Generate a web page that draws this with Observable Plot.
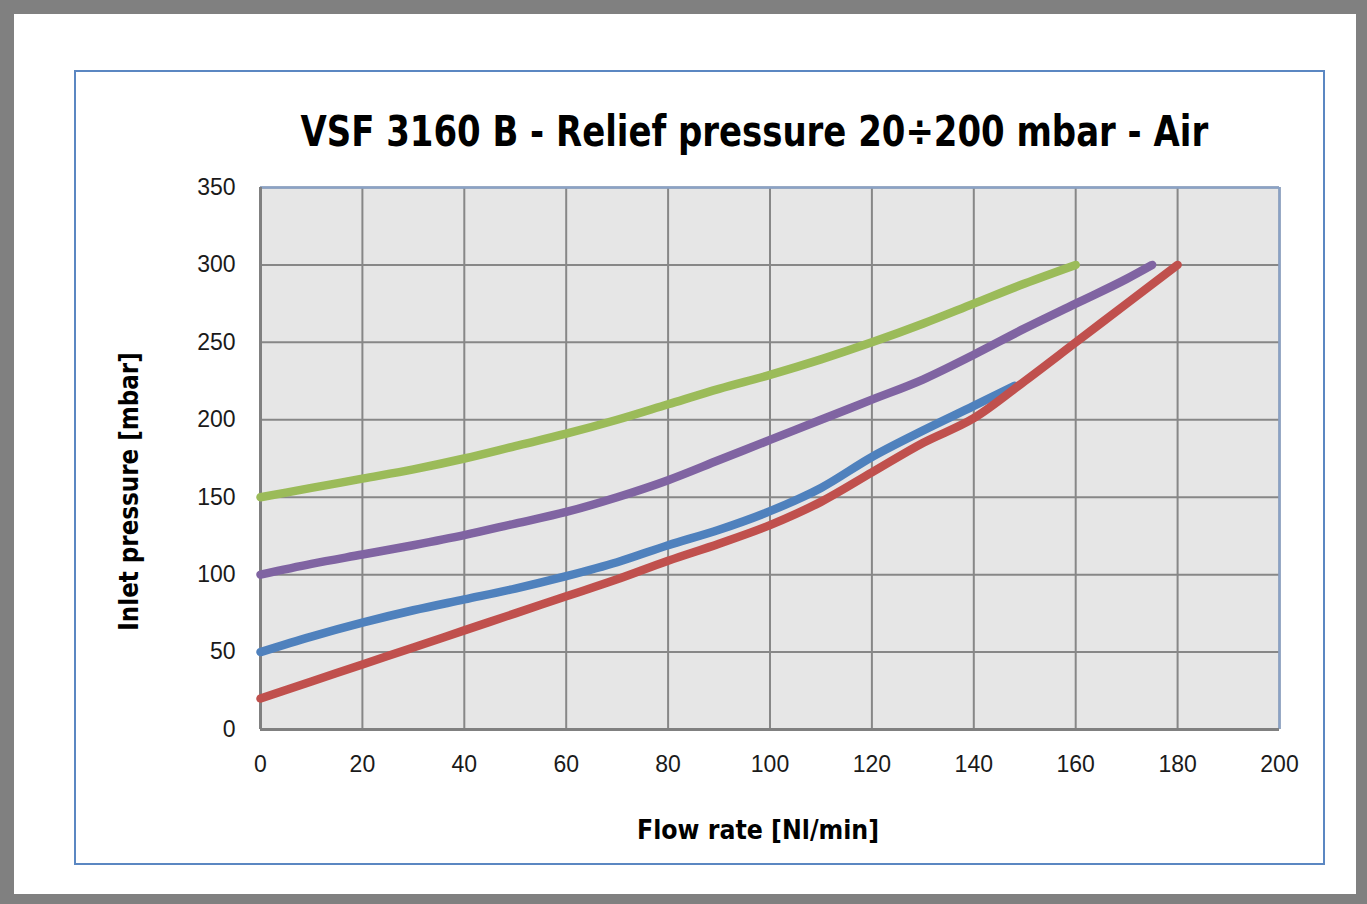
<!DOCTYPE html>
<html>
<head>
<meta charset="utf-8">
<script src="https://cdn.jsdelivr.net/npm/d3@7"></script>
<script src="https://cdn.jsdelivr.net/npm/@observablehq/plot@0.6"></script>
<style>
  html, body { margin: 0; padding: 0; background: #fff; }
  body { width: 1367px; height: 904px; position: relative; overflow: hidden; }
  #outer { position: absolute; left: 0; top: 0; width: 1367px; height: 904px; box-sizing: border-box;
           border-style: solid; border-color: #808080; border-width: 14px 11px 10px 14px; background: #fff; }
  #inner { position: absolute; left: 74px; top: 70px; width: 1251px; height: 795px; box-sizing: border-box;
           border: 2px solid #5b87c2; }
  .lbl { position: absolute; font-family: "DejaVu Sans Condensed", "DejaVu Sans", sans-serif; font-stretch: condensed;
         font-weight: bold; color: #000; white-space: nowrap; transform-origin: center center; }
  #chart { position: absolute; left: 0; top: 0; }
</style>
</head>
<body>
<div id="outer"></div>
<div id="inner"></div>
<div id="chart"></div>
<div id="title" class="lbl" style="font-size:42px;"></div>
<div id="xlabel" class="lbl" style="font-size:27px;"></div>
<div id="ylabel" class="lbl" style="font-size:27px;"></div>
<script>
// ---- data ----
const titleText = "VSF 3160 B - Relief pressure 20÷200 mbar - Air";
const xLabelText = "Flow rate [Nl/min]";
const yLabelText = "Inlet pressure [mbar]";

const xTicks = [0, 20, 40, 60, 80, 100, 120, 140, 160, 180, 200];
const yTicks = [0, 50, 100, 150, 200, 250, 300, 350];

const seriesNames = ["Series A", "Series B", "Series C", "Series D"];
const seriesColors = ["#9bbb59", "#8064a2", "#4f81bd", "#c0504d"];

const flowA = [0, 10, 20, 30, 40, 50, 60, 70, 80, 90, 100, 110, 120, 130, 140, 150, 160];
const pressA = [150, 156, 162, 168, 175, 183, 191, 200, 210, 220, 229, 239, 250, 262, 275, 288, 300];

const flowB = [0, 10, 20, 30, 40, 50, 60, 70, 80, 90, 100, 110, 120, 130, 140, 150, 160, 170, 175];
const pressB = [100, 107, 113, 119, 125.5, 133, 140.5, 150, 161, 174, 187, 200, 213, 226, 242, 259, 275, 291, 300];

const flowC = [0, 10, 20, 30, 40, 50, 60, 70, 80, 90, 100, 110, 120, 130, 140, 148];
const pressC = [50, 60, 69, 77, 84, 91, 99, 108, 119, 129, 141, 156, 176, 193, 209, 222];

const flowD = [0, 10, 20, 30, 40, 50, 60, 70, 80, 90, 100, 110, 120, 130, 140, 150, 160, 170, 180];
const pressD = [20, 31, 42, 53, 64, 75, 86, 97, 109, 120, 132, 147, 166, 185, 201, 225, 250, 275, 300];

// ---- build table ----
const rows = [];
[[flowA, pressA], [flowB, pressB], [flowC, pressC], [flowD, pressD]]
  .forEach(([fx, py], i) => fx.forEach((f, j) => rows.push({series: seriesNames[i], flow: f, pressure: py[j]})));

const grid = "#878787";
const chart = Plot.plot({
  width: 1367,
  height: 904,
  marginLeft: 260,
  marginRight: 88,
  marginTop: 187,
  marginBottom: 175,
  style: {background: "transparent", fontFamily: "'Liberation Sans', Arial, sans-serif", fontSize: "23px", color: "#1a1a1a"},
  x: {domain: [0, 200], label: null},
  y: {domain: [0, 350], label: null},
  color: {type: "ordinal", domain: seriesNames, range: seriesColors},
  marks: [
    Plot.frame({fill: "#e6e6e6", stroke: null}),
    Plot.gridX(xTicks, {stroke: grid, strokeOpacity: 1, strokeWidth: 2}),
    Plot.gridY(yTicks, {stroke: grid, strokeOpacity: 1, strokeWidth: 2}),
    Plot.ruleY([350], {stroke: "#8aa2c6", strokeWidth: 2.5}),
    Plot.ruleX([200], {stroke: "#8aa2c6", strokeWidth: 2.5}),
    Plot.ruleY([0], {stroke: "#808080", strokeWidth: 3}),
    Plot.ruleX([0], {stroke: "#808080", strokeWidth: 3}),
    Plot.axisX(xTicks, {tickSize: 0, tickPadding: 26, fontSize: 23, label: null}),
    Plot.axisY(yTicks, {tickSize: 0, tickPadding: 25, fontSize: 23, label: null}),
    Plot.line(rows, {x: "flow", y: "pressure", z: "series", stroke: "series", strokeWidth: 8.5,
                     curve: "monotone-x", strokeLinecap: "round", strokeLinejoin: "round"})
  ]
});
document.getElementById("chart").appendChild(chart);

// ---- text labels (outside the SVG) ----
function place(id, text, cx, cy, targetLen, rotate) {
  const el = document.getElementById(id);
  el.textContent = text;
  const w = el.offsetWidth, h = el.offsetHeight;
  el.style.left = (cx - w / 2) + "px";
  el.style.top = (cy - h / 2) + "px";
  const s = targetLen / w;
  el.style.transform = (rotate ? "rotate(-90deg) " : "") + "scaleX(" + s + ")";
}
place("title", titleText, 754, 131, 908, false);
place("xlabel", xLabelText, 758, 829, 242, false);
place("ylabel", yLabelText, 128, 491, 278, true);
</script>
</body>
</html>
